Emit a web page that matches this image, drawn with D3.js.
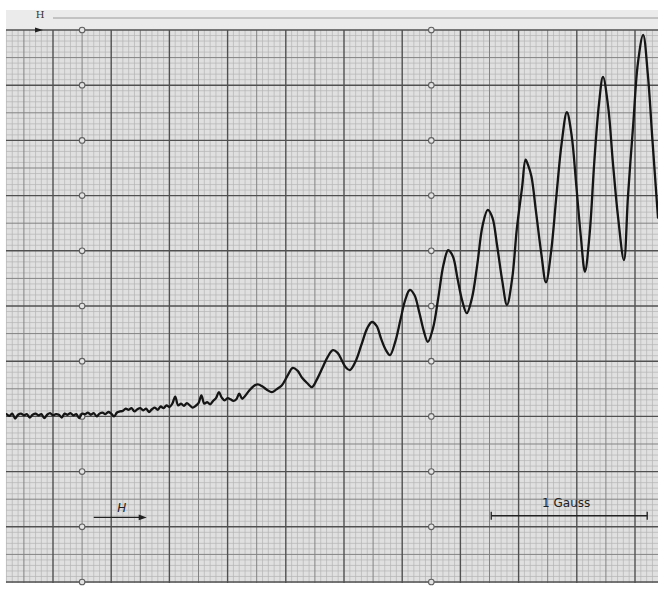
<!DOCTYPE html>
<html>
<head>
<meta charset="utf-8">
<script src="https://cdn.jsdelivr.net/npm/d3@7"></script>
<style>
  html, body { margin: 0; padding: 0; background: #fff; }
  svg { display: block; }
</style>
</head>
<body>
<svg id="chart" width="658" height="589"></svg>
<script>
// recorder trace, in small paper divisions (x: field, y: signal)
var noiseFloor = [
  [-8,30.4],[-7.5,30.1],[-7,30.5],[-6.5,29.6],[-6,30.3],[-5.5,30.5],[-5,30.2],[-4.5,30.4],[-4,29.8],[-3.5,30.3],
  [-3,30.5],[-2.5,30.2],[-2,30.4],[-1.5,29.7],[-1,30.3],[-0.5,30.6],[0,30.2],[0.5,30.4],[1,30.3],[1.5,29.8],
  [2,30.5],[2.5,30.3],[3,30.6],[3.5,30.2],[4,30.4],[4.5,29.7],[5,30.5],[5.5,30.4],[6,30.7],[6.5,30.3],
  [7,30.6],[7.5,30.0],[8,30.5],[8.5,30.7],[9,30.4],[9.5,30.8],[10,30.5],[10.5,30.0],[11,30.7],[11.5,30.9],
  [12,31.0],[12.5,31.4],[13,31.2],[13.5,31.5],[14,30.9],[14.5,31.3],[15,31.5],[15.5,31.1],[16,31.4],[16.5,30.8],
  [17,31.3],[17.5,31.6],[18,31.2],[18.5,31.8],[19,31.5]
];

var onset = [
  [19.5,32.0],[20,31.7],[20.5,32.3],[21,33.6],[21.5,32.0],[22,32.3],[22.5,31.9],[23,32.4],[23.5,32.0],[24,31.6],
  [24.5,31.9],[25,32.4],[25.5,33.8],[26,32.3],[26.5,32.6],[27,32.2],[27.5,32.8],[28,33.3],[28.5,34.4],[29,33.4],
  [29.5,32.9],[30,33.3],[30.5,33.1],[31,32.8],[31.5,33.1],[32,34.1],[32.5,33.2],[33,33.7],[33.5,34.4],[34,35.0],
  [34.5,35.5]
];

var oscillations = [
  [35.2,35.8],[36,35.4],[36.8,34.8],[37.6,34.4],[38.4,34.9],[39.3,35.6],[40.2,37.2],[41.2,38.8],[42,38.3],[42.8,37.0],
  [43.7,36.0],[44.5,35.3],[45.4,36.8],[46.3,38.8],[47.2,40.8],[48.1,42.0],[48.9,41.5],[49.7,40.0],[50.3,38.9],[51.0,38.4],
  [52,40.0],[53,43.0],[54,46.0],[54.8,47.1],[55.6,46.4],[56.4,44.0],[57.2,42.0],[57.9,41.1],[58.8,43.5],[59.7,47.5],
  [60.5,51.0],[61.3,52.9],[62.1,52.0],[62.9,49.0],[63.7,45.5],[64.4,43.5],[65.3,46.0],[66.2,51.5],[67.1,57.5],[67.9,60.1],
  [68.7,59.0],[69.5,55.0],[70.3,51.0],[71.1,48.7],[72,51.5],[72.9,57.5],[73.8,64.5],[74.7,67.4],[75.5,66.0],[76.3,61.0],
  [77.2,54.5],[78.0,50.2],[78.9,55.0],[79.7,64.0],[80.6,71.5],[81.2,76.5],[81.6,75.6],[82.2,73.5],[83.0,67.0],[83.9,59.5],
  [84.7,54.3],[85.6,60.0],[86.5,70.0],[87.4,79.5],[88.3,85.1],[89.1,81.0],[89.9,72.0],[90.7,62.5],[91.4,56.2],[92.2,63.0],
  [93.0,76.0],[93.8,86.5],[94.5,91.5],[95.4,86.0],[96.2,76.0],[97.1,66.0],[98.1,58.3],[98.8,70.0],[99.7,83.0],[100.5,94.0],
  [101.4,99.1],[102.2,92.0],[103.0,80.0],[103.95,66.0]
];

var gaussBar = [75.3, 102.1];   // scale bar ends, small divisions
var gaussLabel = "1 Gauss";

var svg = d3.select("#chart");

var x = d3.scaleLinear().domain([0, 100]).range([53, 635]);
var y = d3.scaleLinear().domain([0, 100]).range([582, 30]);

var paperLeft = 6, paperRight = 658, paperTop = 10, paperBottom = 583;

// paper
svg.append("rect")
  .attr("x", paperLeft).attr("y", paperTop)
  .attr("width", paperRight - paperLeft).attr("height", y(100) - paperTop)
  .attr("fill", "#ebebeb");
svg.append("line")
  .attr("x1", x(0)).attr("x2", paperRight)
  .attr("y1", 18).attr("y2", 18)
  .attr("stroke", "#9a9a9a").attr("stroke-width", 1);

svg.append("rect")
  .attr("x", paperLeft).attr("y", y(100))
  .attr("width", paperRight - paperLeft).attr("height", paperBottom - y(100))
  .attr("fill", "#e0e0e0");

var grid = svg.append("g");

var gridStyle = function(i) {
  if (i % 10 === 0) { return { c: "#505050", w: 1.4 }; }
  if (i % 5 === 0) { return { c: "#838383", w: 1 }; }
  return { c: "#b4b4b4", w: 0.7 };
};

var xs = d3.range(-8, 104).map(i => [i, gridStyle(i)]);
var ys = d3.range(0, 101).map(i => [i, gridStyle(i)]);

// fine first, then medium, then major on top
[0.7, 1, 1.4].forEach(function(w) {
  grid.selectAll(null)
    .data(xs.filter(d => d[1].w === w))
    .enter().append("line")
      .attr("x1", d => x(d[0])).attr("x2", d => x(d[0]))
      .attr("y1", y(100)).attr("y2", paperBottom)
      .attr("stroke", d => d[1].c)
      .attr("stroke-width", d => d[1].w);
  grid.selectAll(null)
    .data(ys.filter(d => d[1].w === w))
    .enter().append("line")
      .attr("x1", paperLeft).attr("x2", paperRight)
      .attr("y1", d => y(d[0])).attr("y2", d => y(d[0]))
      .attr("stroke", d => d[1].c)
      .attr("stroke-width", d => d[1].w);
});

// punched marks on the paper
var holes = [];
[5, 65].forEach(function(hx) {
  d3.range(0, 101, 10).forEach(function(hy) { holes.push([hx, hy]); });
});
svg.selectAll(".hole")
  .data(holes)
  .enter().append("circle")
    .attr("class", "hole")
    .attr("cx", d => x(d[0]))
    .attr("cy", d => y(d[1]))
    .attr("r", 2.8)
    .attr("fill", "#e2e2e2")
    .attr("stroke", "#606060")
    .attr("stroke-width", 1.1);

// top H marker and arrow
svg.append("text")
  .attr("x", 40).attr("y", 18)
  .attr("text-anchor", "middle")
  .attr("font-family", "DejaVu Serif, serif")
  .attr("font-size", 10)
  .attr("fill", "#333")
  .text("H");
svg.append("path")
  .attr("d", "M35,27.5 L43,30 L35,32.5 Z")
  .attr("fill", "#222");

// trace
var clip = svg.append("clipPath").attr("id", "paper");
clip.append("rect")
  .attr("x", paperLeft).attr("y", paperTop)
  .attr("width", paperRight - paperLeft).attr("height", paperBottom - paperTop);

var trace = noiseFloor.concat(onset, oscillations);

var line = d3.line()
  .x(d => x(d[0]))
  .y(d => y(d[1]))
  .curve(d3.curveCatmullRom.alpha(0.5));

svg.append("path")
  .attr("clip-path", "url(#paper)")
  .attr("fill", "none")
  .attr("stroke", "#151515")
  .attr("stroke-width", 2.3)
  .attr("stroke-linejoin", "round")
  .attr("stroke-linecap", "round")
  .attr("d", line(trace));

// field direction arrow
var arrowY = y(11.7);
svg.append("line")
  .attr("x1", x(7)).attr("x2", x(15))
  .attr("y1", arrowY).attr("y2", arrowY)
  .attr("stroke", "#222").attr("stroke-width", 1.3);
svg.append("path")
  .attr("d", "M" + (x(16.1)) + "," + arrowY + " l-8,-2.8 l0,5.6 Z")
  .attr("fill", "#222");
svg.append("text")
  .attr("x", x(11.8)).attr("y", arrowY - 5)
  .attr("text-anchor", "middle")
  .attr("font-family", "DejaVu Sans, sans-serif")
  .attr("font-style", "italic")
  .attr("font-size", 12)
  .attr("fill", "#222")
  .text("H");

// 1 Gauss scale bar
var barY = y(12);
svg.append("line")
  .attr("x1", x(gaussBar[0])).attr("x2", x(gaussBar[1]))
  .attr("y1", barY).attr("y2", barY)
  .attr("stroke", "#222").attr("stroke-width", 1.3);
svg.selectAll(".barEnd")
  .data(gaussBar)
  .enter().append("line")
    .attr("class", "barEnd")
    .attr("x1", d => x(d)).attr("x2", d => x(d))
    .attr("y1", barY - 4).attr("y2", barY + 4)
    .attr("stroke", "#222").attr("stroke-width", 1.3);
svg.append("text")
  .attr("x", x((gaussBar[0] + gaussBar[1]) / 2) - 3)
  .attr("y", barY - 9)
  .attr("text-anchor", "middle")
  .attr("font-family", "DejaVu Sans, sans-serif")
  .attr("font-size", 12)
  .attr("fill", "#222")
  .text(gaussLabel);
</script>
</body>
</html>
